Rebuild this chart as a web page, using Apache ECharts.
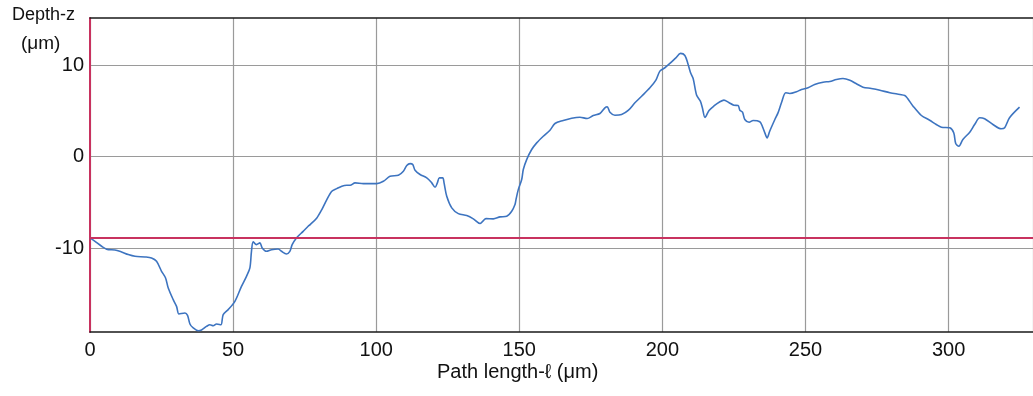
<!DOCTYPE html>
<html>
<head>
<meta charset="utf-8">
<script src="https://cdn.jsdelivr.net/npm/echarts@6/dist/echarts.min.js"></script>
<style>html,body{margin:0;padding:0;background:#fff}#c{width:1033px;height:396px}</style>
</head>
<body>
<div id="c"></div>
<script>
var pathLength = [0,1.75,4.05,6.39,8.73,11.03,13.37,15.71,19.2,21.5,23.25,25.0,26.4,27.34,29.08,30.24,31.08,33.17,34.08,34.92,36.07,37.81,38.97,40.71,41.9,43.05,44.2,45.74,46.54,48.29,50.63,52.93,54.68,55.87,56.42,57.02,58.17,59.36,60.16,61.66,63.41,65.75,66.9,68.65,69.83,70.64,72.14,74.48,76.22,76.92,79.26,81.0,82.75,84.5,86.24,87.99,89.73,90.89,92.63,95.53,100.21,102.51,104.85,107.75,109.5,110.68,111.84,112.78,113.58,115.33,117.67,119.41,120.57,121.37,122.07,123.25,123.71,124.65,126.4,128.7,131.63,133.94,136.28,137.22,138.37,140.92,143.26,145.6,147.35,148.5,148.85,149.65,150.84,151.4,152.58,154.33,156.08,158.38,160.72,162.47,165.36,168.3,171.19,173.74,175.84,178.18,179.92,180.73,181.67,183.41,185.75,188.06,190.4,192.74,195.64,197.73,199.13,200.87,202.62,204.71,206.35,207.86,209.0,209.85,210.75,211.94,213.27,213.97,214.9,216.3,218.0,220.1,221.5,223.2,225.0,226.47,227.06,228.0,228.8,230.3,231.7,234.04,235.0,235.8,236.6,237.5,239.3,240.4,241.6,243.1,244.5,246.86,248.6,250.9,253.2,256.15,258.5,260.8,263.1,265.5,267.8,270.1,273.0,276.0,279.5,283.0,284.7,285.7,287.6,290.5,293.4,295.7,297.5,300.4,301.8,302.5,303.6,305.0,307.4,309.1,310.9,312.6,315.5,318.4,319.6,321.3,324.8];
var depth = [-8.89,-9.27,-9.81,-10.18,-10.21,-10.43,-10.72,-10.91,-10.98,-11.09,-11.46,-12.55,-13.28,-14.38,-15.66,-16.39,-17.23,-17.12,-17.38,-18.32,-18.76,-19.06,-18.98,-18.59,-18.4,-18.51,-18.32,-18.4,-17.3,-16.75,-15.84,-14.2,-13.1,-12.18,-10.36,-9.33,-9.63,-9.44,-9.99,-10.36,-10.18,-10.1,-10.36,-10.65,-10.36,-9.63,-8.89,-8.17,-7.62,-7.43,-6.7,-5.79,-4.69,-3.78,-3.49,-3.23,-3.13,-3.13,-2.86,-2.94,-2.94,-2.69,-2.14,-2.03,-1.59,-0.96,-0.75,-0.86,-1.48,-1.95,-2.31,-2.86,-3.34,-2.86,-2.31,-2.31,-2.86,-4.33,-5.6,-6.23,-6.45,-6.81,-7.32,-7.07,-6.78,-6.81,-6.59,-6.52,-5.98,-5.24,-4.69,-3.6,-2.5,-1.4,-0.31,0.79,1.52,2.25,2.91,3.64,3.97,4.22,4.33,4.19,4.52,4.74,5.36,5.47,4.88,4.55,4.63,5.07,5.91,6.63,7.55,8.39,9.38,9.75,10.22,10.84,11.32,11.1,10.11,9.2,8.57,6.77,6.09,5.36,4.3,5.07,5.56,6.02,6.2,5.94,5.64,5.61,5.1,4.88,4.08,3.78,3.97,3.83,3.28,2.62,2.07,2.8,4.08,4.81,5.91,7.01,6.93,7.12,7.37,7.55,7.92,8.17,8.25,8.46,8.57,8.39,7.99,7.62,7.48,7.29,7.01,6.82,6.71,6.38,5.54,4.52,4.0,3.53,3.23,3.17,2.62,1.45,1.15,1.89,2.69,3.53,4.27,4.16,3.53,3.06,3.17,4.27,5.43];
var referenceDepth = -8.85;
var yTicks = [-10, 0, 10];
var xMin = 0, xMax = 329.5, xStep = 50;
var yMin = -19.2, yMax = 15.2;

var pts = pathLength.map(function (x, i) { return [x, depth[i]]; });
var chart = echarts.init(document.getElementById('c'), null, {renderer: 'canvas'});
var font = 'Liberation Sans, Arial, sans-serif';
chart.setOption({
  animation: false,
  grid: {left: 90, top: 18, right: -2, bottom: 64},
  xAxis: [{
    type: 'value', min: xMin, max: xMax, interval: xStep,
    axisLine: {show: true, onZero: false, lineStyle: {color: '#1a1a1a', width: 1.5}},
    axisTick: {show: false},
    axisLabel: {fontSize: 20, color: '#111', fontFamily: font, margin: 8,
      showMaxLabel: false,
      formatter: function (v) { return v % 50 === 0 ? String(v) : ''; }},
    splitLine: {show: true, lineStyle: {color: '#9a9a9a', width: 1.2}}
  }, {
    type: 'value', position: 'top', min: xMin, max: xMax, interval: xStep,
    axisLine: {show: true, onZero: false, lineStyle: {color: '#1a1a1a', width: 1.5}},
    axisTick: {show: false}, axisLabel: {show: false}, splitLine: {show: false}
  }],
  yAxis: {
    type: 'value', min: yMin, max: yMax,
    axisLine: {show: true, onZero: false, lineStyle: {color: '#c8325f', width: 2}},
    axisTick: {show: false, customValues: yTicks},
    axisLabel: {fontSize: 20, color: '#111', fontFamily: font, margin: 6, customValues: yTicks},
    splitLine: {show: true, lineStyle: {color: '#9a9a9a', width: 1.2}}
  },
  graphic: [
    {type: 'text', left: 12, top: 6, style: {text: 'Depth-z', fontSize: 18, fontFamily: font, fill: '#111'}},
    {type: 'text', left: 21, top: 34, style: {text: '(μm)', fontSize: 19, fontFamily: font, fill: '#111'}},
    {type: 'text', left: 437, top: 362, style: {text: 'Path length-ℓ (μm)', fontSize: 20, fontFamily: font, fill: '#111'}}
  ],
  series: [{
    type: 'line', data: pts, showSymbol: false, smooth: 0.3,
    lineStyle: {color: '#3d74c0', width: 1.6},
    markLine: {
      silent: true, symbol: 'none', label: {show: false},
      lineStyle: {color: '#c8325f', width: 2, type: 'solid'},
      data: [{yAxis: referenceDepth}]
    }
  }]
});
</script>
</body>
</html>
